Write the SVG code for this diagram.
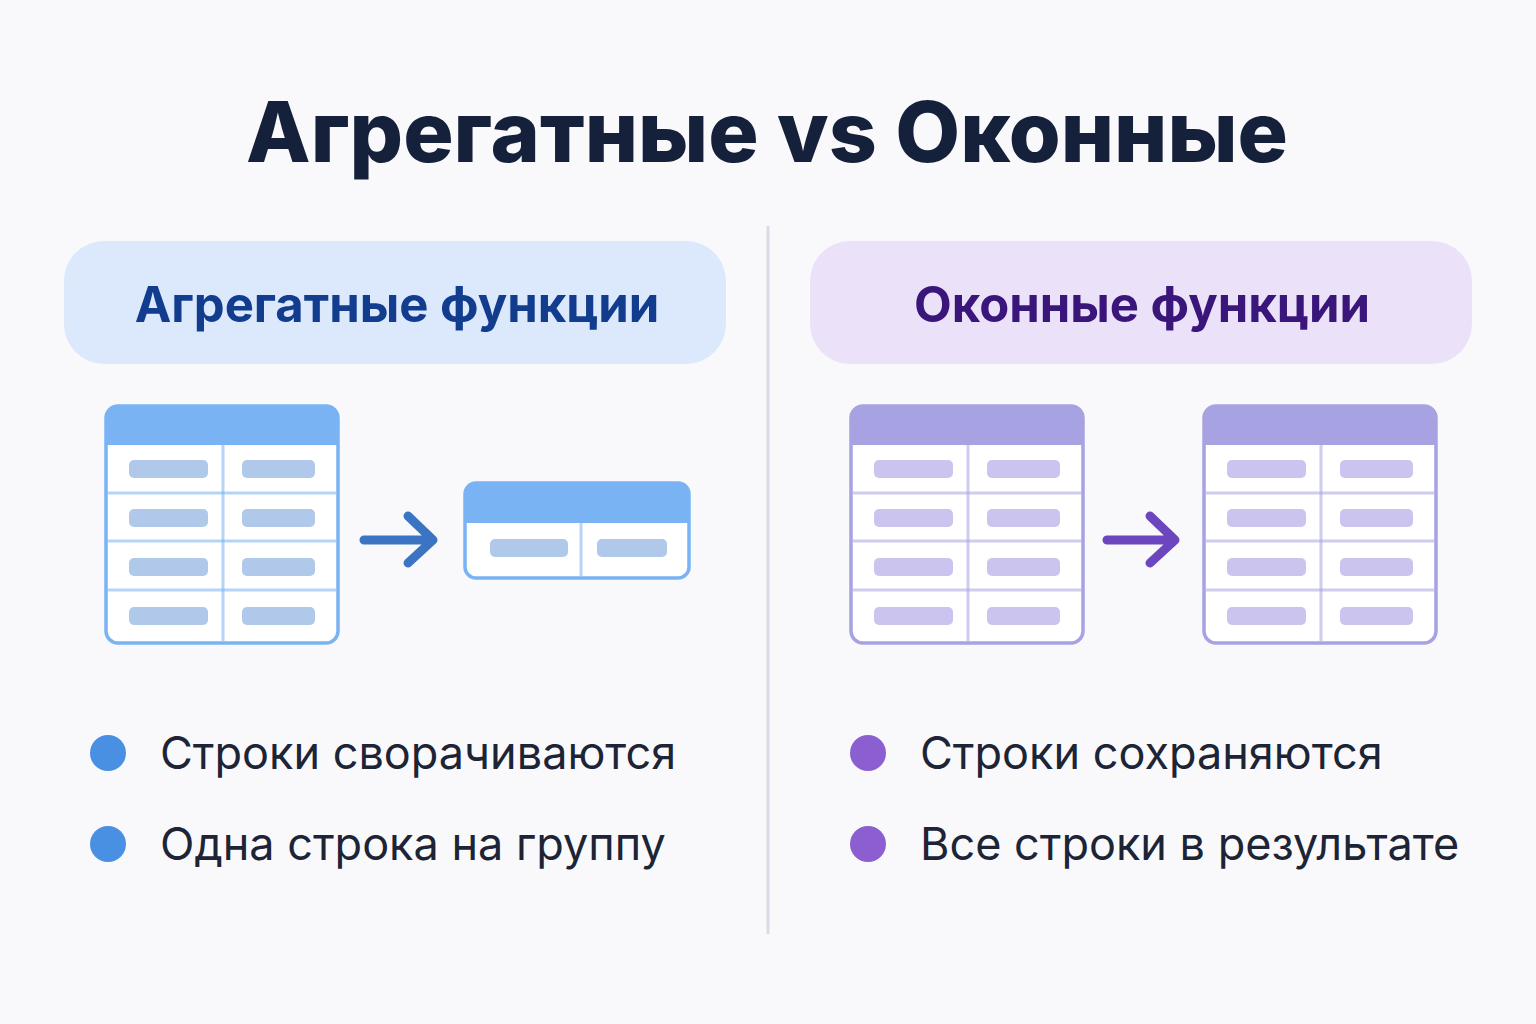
<svg xmlns="http://www.w3.org/2000/svg" xmlns:xlink="http://www.w3.org/1999/xlink" width="1536" height="1024" viewBox="0 0 1536 1024">
<style>
.t{font-family:"Inter","Noto Sans","Liberation Sans",sans-serif}
.title{font-size:84px;font-weight:800;fill:#15203a}
.hd{font-size:49px;font-weight:700}
.bl{font-size:45px;fill:#1c2436}
.frame{fill:#fff;stroke:currentColor;stroke-width:3.5}
.head{fill:currentColor}
.ln{stroke:currentColor;stroke-width:3;opacity:.55}
.pill{fill:var(--p)}
</style>
<defs>
<g id="big">
<rect class="frame" x="0" y="0" width="232" height="237" rx="12"/>
<path class="head" d="M0 12 a12 12 0 0 1 12 -12 h208 a12 12 0 0 1 12 12 v27 h-232 z"/>
<line class="ln" x1="2" y1="87" x2="230" y2="87"/>
<line class="ln" x1="2" y1="135" x2="230" y2="135"/>
<line class="ln" x1="2" y1="184" x2="230" y2="184"/>
<line class="ln" x1="117" y1="39" x2="117" y2="235"/>
<rect class="pill" x="23" y="54" width="79" height="18" rx="5"/>
<rect class="pill" x="136" y="54" width="73" height="18" rx="5"/>
<rect class="pill" x="23" y="103" width="79" height="18" rx="5"/>
<rect class="pill" x="136" y="103" width="73" height="18" rx="5"/>
<rect class="pill" x="23" y="152" width="79" height="18" rx="5"/>
<rect class="pill" x="136" y="152" width="73" height="18" rx="5"/>
<rect class="pill" x="23" y="201" width="79" height="18" rx="5"/>
<rect class="pill" x="136" y="201" width="73" height="18" rx="5"/>
</g>
</defs>
<rect width="1536" height="1024" fill="#f9f9fc"/>
<text class="t title" x="767" y="162" text-anchor="middle">Агрегатные vs Оконные</text>
<line x1="768" y1="226" x2="768" y2="934" stroke="#d6dbe6" stroke-width="3"/>

<g id="agg-header">
<rect x="64" y="241" width="662" height="123" rx="40" fill="#dce8fc"/>
<text class="t hd" x="397" y="322" text-anchor="middle" fill="#123d8f">Агрегатные функции</text>
</g>
<g id="win-header">
<rect x="810" y="241" width="662" height="123" rx="40" fill="#ebe2fa"/>
<text class="t hd" x="1142" y="322" text-anchor="middle" fill="#3a157a">Оконные функции</text>
</g>

<g id="agg-table" style="color:#7ab3f3;--p:#b0c8ea"><use xlink:href="#big" href="#big" x="106" y="406"/></g>
<g id="agg-result" style="color:#7ab3f3;--p:#b0c8ea">
<rect class="frame" x="465" y="483" width="224" height="95" rx="11"/>
<path class="head" d="M465 494 a11 11 0 0 1 11 -11 h202 a11 11 0 0 1 11 11 v29 h-224 z"/>
<line class="ln" x1="581" y1="523" x2="581" y2="576"/>
<rect class="pill" x="490" y="539" width="78" height="18" rx="5"/>
<rect class="pill" x="597" y="539" width="70" height="18" rx="5"/>
</g>
<g id="win-table1" style="color:#a7a3e2;--p:#cbc4ee"><use xlink:href="#big" href="#big" x="851" y="406"/></g>
<g id="win-table2" style="color:#a7a3e2;--p:#cbc4ee"><use xlink:href="#big" href="#big" x="1204" y="406"/></g>

<g id="connectors" fill="none" stroke-linecap="round" stroke-linejoin="round" stroke-width="9">
<path d="M364 540 H432 M408 516 L433 540 L408 563" stroke="#3a74c2"/>
<path d="M1107 540 H1174 M1150 516 L1175 540 L1150 563" stroke="#6b46be"/>
</g>

<g id="agg-bullets">
<circle cx="108" cy="753" r="18" fill="#4a90e2"/>
<text class="t bl" x="160" y="769">Строки сворачиваются</text>
<circle cx="108" cy="844" r="18" fill="#4a90e2"/>
<text class="t bl" x="160" y="860">Одна строка на группу</text>
</g>
<g id="win-bullets">
<circle cx="868" cy="753" r="18" fill="#8b5fd0"/>
<text class="t bl" x="920" y="769">Строки сохраняются</text>
<circle cx="868" cy="844" r="18" fill="#8b5fd0"/>
<text class="t bl" x="920" y="860">Все строки в результате</text>
</g>
</svg>
